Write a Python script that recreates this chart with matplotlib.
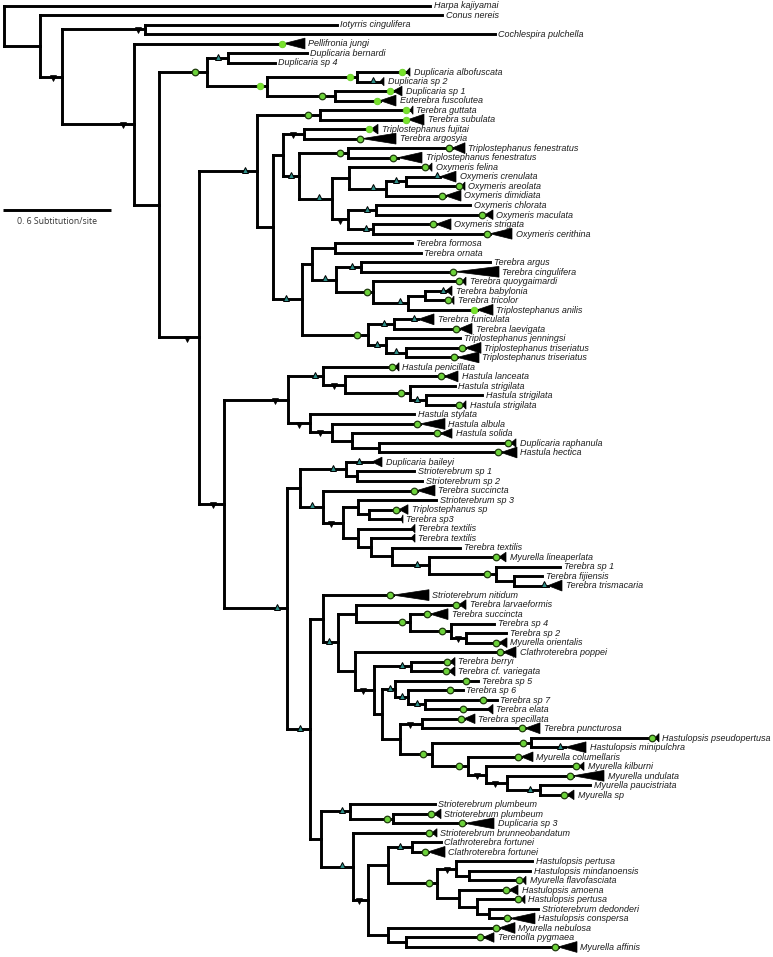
import matplotlib
matplotlib.use('Agg')
import matplotlib.pyplot as plt
from matplotlib.collections import LineCollection
from matplotlib.patches import Polygon

###############################################################################
############################ tips, top to bottom ##############################
###############################################################################
leaf_names = [
    'Harpa kajiyamai', 'Conus nereis', 'Iotyrris cingulifera', 'Cochlespira pulchella',
    'Pellifronia jungi', 'Duplicaria bernardi', 'Duplicaria sp 4', 'Duplicaria albofuscata',
    'Duplicaria sp 2', 'Duplicaria sp 1',
    'Euterebra fuscolutea', 'Terebra guttata', 'Terebra subulata', 'Triplostephanus fujitai',
    'Terebra argosyia', 'Triplostephanus fenestratus', 'Triplostephanus fenestratus',
    'Oxymeris felina', 'Oxymeris crenulata', 'Oxymeris areolata',
    'Oxymeris dimidiata', 'Oxymeris chlorata', 'Oxymeris maculata', 'Oxymeris strigata',
    'Oxymeris cerithina', 'Terebra formosa', 'Terebra ornata', 'Terebra argus',
    'Terebra cingulifera', 'Terebra quoygaimardi',
    'Terebra babylonia', 'Terebra tricolor', 'Triplostephanus anilis', 'Terebra funiculata',
    'Terebra laevigata', 'Triplostephanus jenningsi', 'Triplostephanus triseriatus',
    'Triplostephanus triseriatus', 'Hastula penicillata', 'Hastula lanceata',
    'Hastula strigilata', 'Hastula strigilata', 'Hastula strigilata', 'Hastula stylata',
    'Hastula albula', 'Hastula solida', 'Duplicaria raphanula', 'Hastula hectica',
    'Duplicaria baileyi', 'Strioterebrum sp 1',
    'Strioterebrum sp 2', 'Terebra succincta', 'Strioterebrum sp 3', 'Triplostephanus sp',
    'Terebra sp3', 'Terebra textilis', 'Terebra textilis', 'Terebra textilis',
    'Myurella lineaperlata', 'Terebra sp 1',
    'Terebra fijiensis', 'Terebra trismacaria', 'Strioterebrum nitidum', 'Terebra larvaeformis',
    'Terebra succincta', 'Terebra sp 4', 'Terebra sp 2', 'Myurella orientalis',
    'Clathroterebra poppei', 'Terebra berryi',
    'Terebra cf. variegata', 'Terebra sp 5', 'Terebra sp 6', 'Terebra sp 7', 'Terebra elata',
    'Terebra specillata', 'Terebra puncturosa', 'Hastulopsis pseudopertusa',
    'Hastulopsis minipulchra', 'Myurella columellaris',
    'Myurella kilburni', 'Myurella undulata', 'Myurella paucistriata', 'Myurella sp',
    'Strioterebrum plumbeum', 'Strioterebrum plumbeum', 'Duplicaria sp 3',
    'Strioterebrum brunneobandatum', 'Clathroterebra fortunei', 'Clathroterebra fortunei',
    'Hastulopsis pertusa', 'Hastulopsis mindanoensis', 'Myurella flavofasciata',
    'Hastulopsis amoena', 'Hastulopsis pertusa', 'Strioterebrum dedonderi',
    'Hastulopsis conspersa', 'Myurella nebulosa', 'Terenolla pygmaea', 'Myurella affinis',
]

leaf_parent = [
    'root', 'A', 'C', 'C', 'D', 'G', 'G', 'I', 'I', 'J',
    'J', 'N', 'N', 'R', 'R', 'T', 'T', 'V', 'Y', 'Y',
    'X', 'W1', 'W1', 'W2', 'W2', 'AB', 'AB', 'AD', 'AD', 'AE',
    'AG', 'AG', 'AF', 'AH', 'AH', 'AI', 'AJ', 'AJ', 'AM', 'AO',
    'AP', 'AQ', 'AQ', 'AN', 'AR', 'AS', 'AT', 'AT', 'AW', 'AY',
    'AY', 'AX', 'BA', 'BB', 'BB', 'TX1', 'TX2', 'TX3', 'TX4', 'TX5',
    'TX6', 'TX6', 'BC', 'BF', 'BH', 'BI', 'BJ', 'BJ', 'BG', 'BL',
    'BL', 'SP5', 'SP6', 'SP7', 'SP7', 'PU', 'PU', 'PS', 'PS', 'MY1',
    'MY2', 'MY3', 'MY4', 'MY4', 'BN', 'BP', 'BP', 'BO', 'BT', 'BT',
    'BV', 'BX', 'BX', 'BW', 'BY', 'BZ', 'BZ', 'BS', 'CA', 'CA',
]

# depth where each tip branch stops (start of collapsed clade)
leaf_depth = [
    430, 442, 337, 495, 284, 307, 275, 406, 380, 393,
    380, 410, 408, 371, 362, 452, 398, 428, 440, 461,
    445, 470, 485, 436, 490, 412, 421, 490, 455, 462,
    446, 451, 477, 418, 459, 460, 465, 457, 395, 444,
    455, 482, 462, 414, 420, 440, 511, 501, 372, 414,
    422, 417, 436, 399, 401, 411, 411, 460, 499, 560,
    542, 548, 393, 459, 430, 494, 506, 499, 503, 450,
    449, 478, 463, 497, 487, 464, 525, 655, 565, 521,
    579, 573, 590, 567, 435, 434, 465, 432, 441, 428,
    532, 530, 522, 509, 521, 538, 510, 499, 483, 558,
]

# depth spanned by the collapsed clade (0 = single sequence)
clade_span = [
    0, 0, 0, 0, 21, 0, 0, 4, 4, 9,
    16, 3, 16, 7, 34, 13, 24, 4, 16, 4,
    16, 0, 8, 15, 22, 0, 0, 0, 44, 4,
    6, 3, 16, 16, 13, 0, 16, 22, 4, 14,
    0, 0, 4, 0, 25, 12, 5, 16, 10, 0,
    0, 18, 0, 9, 2, 4, 4, 0, 7, 0,
    0, 14, 36, 7, 18, 0, 0, 8, 13, 5,
    6, 0, 0, 0, 6, 11, 15, 4, 21, 12,
    5, 31, 0, 7, 0, 7, 29, 5, 0, 17,
    0, 0, 4, 9, 4, 0, 25, 16, 11, 19,
]

# support symbol on the tip branch: g circle, G bright circle, t triangle
leaf_support = [
    '', '', '', '', 'G', '', '', 'G', 't', 'G',
    'G', 'G', 'G', 'G', 'g', 'g', 'g', 'g', 't', 'g',
    'g', '', 'g', 'g', 'g', '', '', '', 'g', 'g',
    't', 'g', 'G', 't', 'g', '', 'g', 'g', 'g', 'g',
    '', '', 'g', '', 'g', 'g', 'g', 'g', 't', '',
    '', 'g', '', 'g', '', '', '', '', 'g', '',
    '', 't', 'g', 'g', 'g', '', '', 'g', 'g', 'g',
    'g', 'g', 'g', 'g', 'g', 'g', 'g', 'g', 't', 'g',
    'g', 'g', '', 'g', '', 'g', 'g', 'g', '', 'g',
    '', '', 'g', 'g', 'g', '', 'g', 'g', 'g', 'g',
]

leaf_support_at = [
    0, 0, 0, 0, 282, 0, 0, 402, 373, 390,
    377, 406, 406, 369, 360, 449, 393, 425, 437, 459,
    442, 0, 482, 433, 487, 0, 0, 0, 453, 459,
    443, 448, 474, 414, 456, 0, 462, 454, 392, 441,
    0, 0, 459, 0, 417, 437, 508, 498, 359, 0,
    0, 414, 0, 396, 0, 0, 0, 0, 496, 0,
    0, 544, 390, 456, 427, 0, 0, 496, 500, 447,
    446, 466, 450, 483, 463, 461, 522, 652, 560, 518,
    576, 570, 0, 564, 0, 431, 462, 429, 0, 425,
    0, 0, 519, 506, 518, 0, 507, 496, 480, 555,
]

###############################################################################
############################### internal nodes ################################
###############################################################################
node_names = ['root', 'A', 'B', 'C', 'D', 'E', 'F', 'G', 'H', 'I', 'J',
              'K', 'L', 'N', 'O', 'P', 'Q', 'R', 'S', 'T', 'U', 'V', 'X', 'Y',
              'W', 'W1', 'W2', 'Z', 'AB', 'AC', 'AD', 'AE', 'AF', 'AG',
              'AA', 'AH', 'AI', 'AJ', 'M', 'AK', 'AM', 'AO', 'AP', 'AQ',
              'AN', 'AR', 'AS', 'AT', 'AL', 'AU', 'AW', 'AY', 'AX', 'AZ',
              'BA', 'BB', 'TX1', 'TX2', 'TX3', 'TX4', 'TX5', 'TX6',
              'AV', 'BC', 'BE', 'BF', 'BH', 'BI', 'BJ', 'BG', 'BK', 'BL',
              'BM', 'SP5', 'SP6', 'SP7', 'BO2', 'PU', 'HY', 'PS', 'MY1',
              'MY2', 'MY3', 'MY4', 'BD', 'BN', 'BP', 'BO', 'BQ', 'BR', 'BT',
              'BU', 'BV', 'BX', 'BW', 'BY', 'BZ', 'BS', 'CA']
node_parent = [None, 'root', 'A', 'B', 'B', 'D', 'E', 'F', 'F', 'H', 'H',
               'E', 'K', 'L', 'L', 'O', 'O', 'P', 'P', 'S', 'S', 'U', 'V', 'X',
               'U', 'W', 'W', 'Q', 'Z', 'Z', 'AC', 'AC', 'AE', 'AF',
               'Q', 'AA', 'AA', 'AI', 'K', 'M', 'AK', 'AM', 'AO', 'AP',
               'AK', 'AN', 'AR', 'AS', 'M', 'AL', 'AU', 'AW', 'AU', 'AX',
               'AZ', 'BA', 'AZ', 'TX1', 'TX2', 'TX3', 'TX4', 'TX5',
               'AL', 'AV', 'BC', 'BE', 'BF', 'BH', 'BI', 'BE', 'BG', 'BK',
               'BK', 'BM', 'SP5', 'SP6', 'BM', 'BO2', 'BO2', 'HY', 'HY',
               'MY1', 'MY2', 'MY3', 'AV', 'BD', 'BN', 'BD', 'BO', 'BQ', 'BR',
               'BR', 'BU', 'BV', 'BU', 'BW', 'BY', 'BQ', 'BS']
node_depth = [3.5, 40, 62, 145, 134, 159, 207, 228, 267, 357, 335,
              199, 257, 320, 273, 283, 302, 304, 299, 348, 332, 349, 386, 406,
              348, 376, 373, 312, 335, 336, 361, 373, 408, 425,
              368, 394, 386, 406, 224, 288, 323, 345, 410, 426,
              310, 332, 352, 379, 287, 300, 346, 357, 323, 343,
              358, 369, 358, 371, 392, 429, 496, 514,
              310, 323, 338, 356, 410, 451, 466, 355, 374, 411,
              382, 395, 408, 425, 400, 422, 432, 531, 468,
              486, 507, 540, 321, 350, 393, 353, 368, 388, 412,
              437, 456, 469, 459, 477, 489, 388, 406]
# support symbol on the branch leading to the node (d = down triangle)
node_support = ['', '', 'd', 'd', 'd', '', 'g', 't', 'G', 'G', 'g',
                'd', 't', 'g', '', '', 't', 'd', 't', 'g', 't', '', 't', 't',
                'd', 't', 't', '', '', 't', 't', 'g', 't', '',
                'g', 't', 't', 't', 'd', 'd', 't', 'd', 'g', 't',
                'd', 'd', '', '', 't', '', 't', '', 't', 'd',
                '', '', '', '', '', 't', 'g', '',
                't', '', 't', '', 'g', 'g', 'd', '', 'd', 't',
                '', 't', 't', 't', '', 'd', 'g', 'g', 'g',
                'd', 'd', 't', '', 't', 'g', 't', 'd', '', 't',
                'g', 'd', '', '', '', '', '', '']
node_support_at = [0, 0, 53, 138, 123, 0, 195, 218, 260, 350, 322,
                   187, 245, 308, 0, 0, 286, 293, 291, 340, 319, 0, 373, 396,
                   340, 367, 366, 0, 0, 325, 352, 367, 400, 0,
                   357, 384, 377, 396, 213, 275, 315, 334, 401, 417,
                   299, 320, 0, 0, 277, 0, 333, 0, 312, 331,
                   0, 0, 0, 0, 0, 417, 487, 0,
                   300, 0, 329, 0, 402, 442, 458, 0, 363, 402,
                   0, 390, 402, 417, 0, 410, 423, 523, 459,
                   477, 495, 530, 0, 342, 387, 342, 359, 0, 400,
                   429, 447, 0, 0, 0, 0, 0, 0]

scale_value = 0.6
scale_label = '0. 6 Subtitution/site'

###############################################################################
################################## layout #####################################
###############################################################################
W, H = 773, 957
row0, row_step = 5.5, 9.51
leaf_y = [row0 + i * row_step for i in range(len(leaf_names))]
nx = dict(zip(node_names, node_depth))

children = {n: [] for n in node_names}
for i, p in enumerate(leaf_parent):
    children[p].append(('leaf', i))
for n, p in zip(node_names, node_parent):
    if p is not None:
        children[p].append(('node', n))

node_y = {}
def get_y(kind, key):
    if kind == 'leaf':
        return leaf_y[key]
    if key not in node_y:
        ys = [get_y(k, c) for k, c in children[key]]
        node_y[key] = (min(ys) + max(ys)) / 2.0
    return node_y[key]

for n in node_names:
    get_y('node', n)

fig = plt.figure(figsize=(W / 100, H / 100), dpi=100)
ax = fig.add_axes([0, 0, 1, 1])
ax.set_xlim(0, W)
ax.set_ylim(H, 0)
ax.axis('off')

segs = []
for n in node_names:
    ys = [get_y(k, c) for k, c in children[n]]
    segs.append([(nx[n], min(ys)), (nx[n], max(ys))])
    for k, c in children[n]:
        if k == 'leaf':
            segs.append([(nx[n], leaf_y[c]), (leaf_depth[c], leaf_y[c])])
        else:
            segs.append([(nx[n], node_y[c]), (nx[c], node_y[c])])
lc = LineCollection(segs, colors='black', linewidths=2.1, capstyle='projecting', zorder=2)
ax.add_collection(lc)

# collapsed clades and tip labels
for i, name in enumerate(leaf_names):
    x0, y, w = leaf_depth[i], leaf_y[i], clade_span[i]
    if w > 0:
        if w > 12:
            h = 5.4
        elif w > 5:
            h = 4.8
        else:
            h = 4.2
        ax.add_patch(Polygon([(x0, y), (x0 + w, y - h), (x0 + w, y + h)],
                             closed=True, facecolor='black', edgecolor='black',
                             lw=0.5, zorder=3))
    ax.text(x0 + w + 3.5, y + 0.3, name, fontsize=6.5, style='italic',
            family='Liberation Sans', color='#1c1c1c', va='center', ha='left')

# support symbols
def put_support(kind, x, y):
    if kind == 'g':
        ax.plot(x, y, 'o', ms=4.7, mfc='#6cd23a', mec='#1e3a0c', mew=0.9, zorder=5)
    elif kind == 'G':
        ax.plot(x, y, 'o', ms=4.7, mfc='#78e22c', mec='#66cf25', mew=0.6, zorder=5)
    elif kind == 't':
        ax.plot(x, y - 1.2, '^', ms=4.6, mfc='#2f8f88', mec='black', mew=0.7, zorder=5)
    elif kind == 'd':
        ax.plot(x, y + 1.2, 'v', ms=4.6, mfc='black', mec='black', mew=0.5, zorder=5)

for i in range(len(leaf_names)):
    if leaf_support[i]:
        put_support(leaf_support[i], leaf_support_at[i], leaf_y[i])
for n, kind, x in zip(node_names, node_support, node_support_at):
    if kind:
        put_support(kind, x, node_y[n])

# scale bar: 0.6 substitutions/site
px_per_unit = 180
ax.plot([3, 3 + scale_value * px_per_unit], [210, 210], color='black', lw=2.1,
        solid_capstyle='butt')
ax.text(3 + scale_value * px_per_unit / 2, 221.5, scale_label, fontsize=6.3,
        family='Open Sans', color='#333333', ha='center', va='center')

plt.savefig('out.png', dpi=100)
